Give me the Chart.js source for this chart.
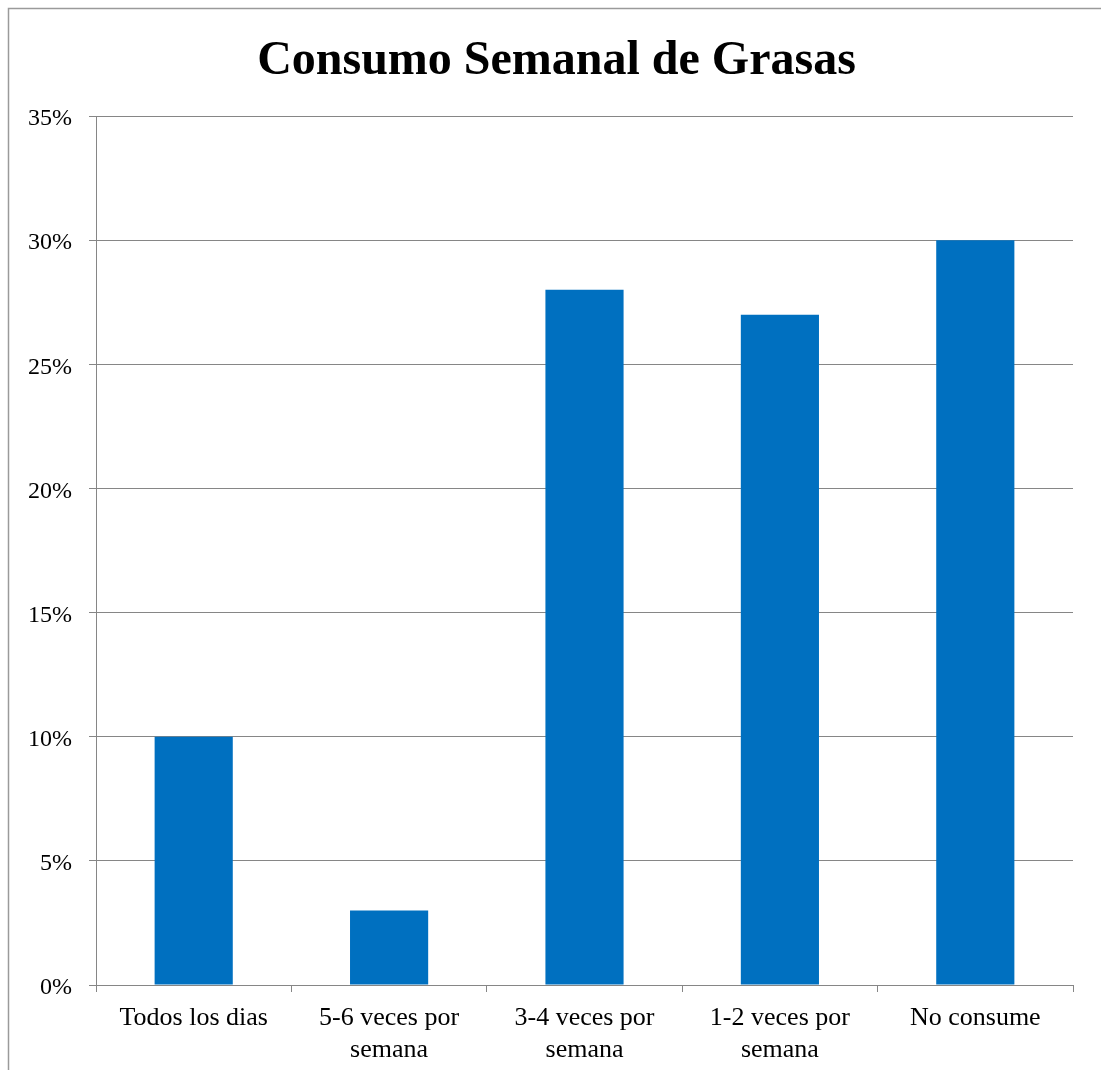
<!DOCTYPE html>
<html>
<head>
<meta charset="utf-8">
<title>Consumo Semanal de Grasas</title>
<script src="https://cdn.jsdelivr.net/npm/chart.js@4/dist/chart.umd.min.js"></script>
<style>
  html, body { margin: 0; padding: 0; background: #ffffff; }
  #wrap { width: 1101px; height: 1070px; position: relative; }
</style>
</head>
<body>
<div id="wrap"><canvas id="chart" width="1101" height="1070"></canvas></div>
<script>
// Weekly fat consumption frequencies (percent of respondents)
const categories = [
  ['Todos los dias'],
  ['5-6 veces por', 'semana'],
  ['3-4 veces por', 'semana'],
  ['1-2 veces por', 'semana'],
  ['No consume']
];
const percentages = [10, 3, 28, 27, 30];
const chartTitle = 'Consumo Semanal de Grasas';
const yMax = 35;
const yStep = 5;

const serif = '"Liberation Serif", "Times New Roman", Times, serif';
const gridGray = '#868686';

// Outer frame and the bold heading above the plot
const framePlugin = {
  id: 'frameAndTitle',
  beforeDraw(chart) {
    const ctx = chart.ctx;
    ctx.save();
    ctx.fillStyle = '#ffffff';
    ctx.fillRect(0, 0, chart.width, chart.height);
    ctx.strokeStyle = '#9a9a9a';
    ctx.lineWidth = 1.5;
    ctx.beginPath();
    ctx.moveTo(8.5, chart.height + 5);
    ctx.lineTo(8.5, 8.5);
    ctx.lineTo(chart.width + 5, 8.5);
    ctx.stroke();
    ctx.restore();
  },
  afterDraw(chart) {
    const ctx = chart.ctx;
    ctx.save();
    ctx.fillStyle = '#000000';
    ctx.font = 'bold 48px ' + serif;
    ctx.textAlign = 'center';
    ctx.textBaseline = 'alphabetic';
    ctx.fillText(chartTitle, 556.5, 74);
    ctx.restore();
  }
};

new Chart(document.getElementById('chart'), {
  type: 'bar',
  data: {
    labels: categories,
    datasets: [{
      data: percentages,
      backgroundColor: '#0070C0',
      borderWidth: 0,
      categoryPercentage: 1.0,
      barPercentage: 0.4
    }]
  },
  options: {
    responsive: false,
    animation: false,
    devicePixelRatio: 1,
    layout: { padding: { left: 0, top: 116, right: 28, bottom: 0 } },
    plugins: {
      legend: { display: false },
      title: { display: false },
      tooltip: { enabled: false }
    },
    scales: {
      x: {
        offset: true,
        grid: {
          offset: true,
          drawOnChartArea: false,
          drawTicks: true,
          tickLength: 7,
          color: gridGray,
          lineWidth: 1
        },
        border: { display: true, color: gridGray, width: 1 },
        ticks: {
          color: '#000000',
          font: { family: serif, size: 26, lineHeight: 1.2 },
          padding: 11,
          maxRotation: 0,
          minRotation: 0,
          autoSkip: false
        },
        afterFit(scale) { scale.height = 85; }
      },
      y: {
        min: 0,
        max: yMax,
        grid: {
          color: gridGray,
          lineWidth: 1,
          drawTicks: true,
          tickLength: 7
        },
        border: { display: true, color: gridGray, width: 1 },
        ticks: {
          stepSize: yStep,
          color: '#000000',
          font: { family: serif, size: 24 },
          padding: 17,
          labelOffset: 3,
          callback: (v) => v + '%'
        },
        afterFit(scale) { scale.width = 96; }
      }
    }
  },
  plugins: [framePlugin]
});
</script>
</body>
</html>
